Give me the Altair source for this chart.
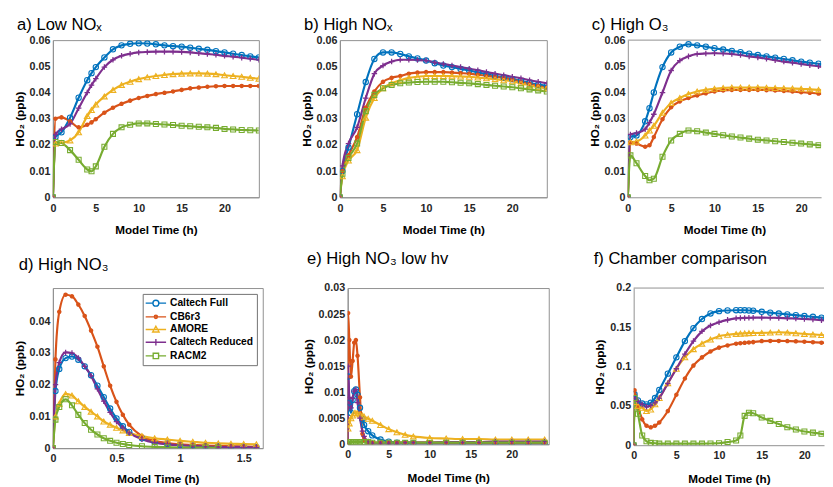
import altair as alt
import pandas as pd

SERIES = ["Caltech Full", "CB6r3", "AMORE", "Caltech Reduced", "RACM2"]
COLORS = ["#0072BD", "#D95319", "#EDB120", "#7E2F8E", "#77AC30"]
MARKER_SHAPES = ["circle", "circle", "triangle-up", "M-1,0H1M0,-1V1", "square"]
MARKER_SIZES = [30, 6, 34, 32, 26]
MARKER_STROKES = [1.1, 2.2, 1.1, 1.3, 1.1]
LEGEND_SHAPES = [
    "M-1.9,0H-0.55M0.55,0H1.9M0.55,0A0.55,0.55,0,1,1,-0.55,0A0.55,0.55,0,1,1,0.55,0",
    "M-1.9,0H1.9M0.3,0A0.3,0.3,0,1,1,-0.3,0A0.3,0.3,0,1,1,0.3,0",
    "M-1.9,0H1.9M0,-0.62L0.6,0.45L-0.6,0.45Z",
    "M-1.9,0H1.9M0,-0.6V0.6",
    "M-1.9,0H-0.5M0.5,0H1.9M-0.5,-0.5H0.5V0.5H-0.5Z",
]

# ---------------- a) Low NOx ----------------
A_T = [0, 0.3, 1, 2, 3, 4, 4.5, 5, 6, 7, 8, 9, 10, 11, 12, 13, 14, 15, 16, 17, 18, 19, 20, 21, 22, 23, 24]
A_FULL = [0, 0.023, 0.0248, 0.0304, 0.038, 0.0447, 0.0474, 0.0497, 0.0534, 0.0565, 0.058, 0.0586, 0.0588, 0.0587, 0.0584, 0.058, 0.0577, 0.0575, 0.0571, 0.0567, 0.0563, 0.0558, 0.0553, 0.0548, 0.0543, 0.0538, 0.0534]
A_CB6 = [0, 0.030, 0.0305, 0.029, 0.0267, 0.0277, 0.0286, 0.0298, 0.0323, 0.0342, 0.0357, 0.0369, 0.0379, 0.0387, 0.0394, 0.0399, 0.0404, 0.041, 0.0416, 0.0419, 0.0422, 0.0424, 0.0425, 0.0425, 0.0425, 0.0425, 0.0425]
A_AMORE = [0, 0.0205, 0.0207, 0.0217, 0.0248, 0.031, 0.0333, 0.0354, 0.0385, 0.041, 0.0429, 0.0441, 0.0451, 0.0458, 0.0463, 0.0467, 0.047, 0.0472, 0.0473, 0.0473, 0.0472, 0.047, 0.0466, 0.0463, 0.046, 0.0456, 0.0453]
A_RED = [0, 0.024, 0.026, 0.028, 0.034, 0.040, 0.0428, 0.0453, 0.0497, 0.0525, 0.054, 0.0548, 0.0553, 0.0555, 0.0556, 0.0556, 0.0556, 0.0555, 0.0553, 0.055, 0.0547, 0.0544, 0.054, 0.0537, 0.0533, 0.0529, 0.0525]
A_RACM = [0, 0.0211, 0.0207, 0.018, 0.0143, 0.0106, 0.0099, 0.0118, 0.0193, 0.0242, 0.0267, 0.0277, 0.0282, 0.0282, 0.028, 0.0278, 0.0276, 0.0273, 0.0271, 0.0269, 0.0267, 0.0265, 0.0261, 0.0259, 0.0257, 0.0256, 0.0255]

# ---------------- b) High NOx ----------------
B_T = [0, 0.3, 1, 2, 3, 4, 5, 6, 7, 8, 9, 10, 11, 12, 13, 14, 15, 16, 17, 18, 19, 20, 21, 22, 23, 24]
B_FULL = [0, 0.010, 0.019, 0.0317, 0.044, 0.0528, 0.0553, 0.0553, 0.0547, 0.0538, 0.053, 0.0522, 0.0512, 0.0503, 0.0497, 0.049, 0.0484, 0.0477, 0.047, 0.0463, 0.0457, 0.0451, 0.0444, 0.0437, 0.043, 0.0425]
B_CB6 = [0, 0.010, 0.016, 0.023, 0.0342, 0.0404, 0.0441, 0.0456, 0.0463, 0.0472, 0.0476, 0.0478, 0.0478, 0.0478, 0.0476, 0.0474, 0.0472, 0.0468, 0.0464, 0.046, 0.0455, 0.0449, 0.0441, 0.0433, 0.0425, 0.0418]
B_AMORE = [0, 0.008, 0.014, 0.018, 0.0304, 0.0379, 0.0416, 0.0435, 0.0447, 0.0456, 0.046, 0.0463, 0.0463, 0.0463, 0.0462, 0.0461, 0.046, 0.0457, 0.0454, 0.0451, 0.0447, 0.0443, 0.0435, 0.0427, 0.042, 0.0416]
B_RED = [0, 0.012, 0.0205, 0.0267, 0.0379, 0.0472, 0.0503, 0.0518, 0.0525, 0.0525, 0.0524, 0.0522, 0.0515, 0.0509, 0.0503, 0.0497, 0.0491, 0.0485, 0.0478, 0.0472, 0.0466, 0.046, 0.0454, 0.0447, 0.0441, 0.0435]
B_RACM = [0, 0.009, 0.015, 0.0205, 0.0329, 0.0391, 0.0416, 0.0429, 0.0435, 0.0438, 0.044, 0.0441, 0.0441, 0.0441, 0.0439, 0.0437, 0.0435, 0.0432, 0.0429, 0.0426, 0.0423, 0.042, 0.0416, 0.0412, 0.0408, 0.0404]

# ---------------- c) High O3 ----------------
C_T = [0, 0.3, 1, 2, 2.5, 3, 4, 5, 6, 7, 8, 9, 10, 11, 12, 13, 14, 15, 16, 17, 18, 19, 20, 21, 22, 23, 24]
C_FULL = [0, 0.023, 0.0236, 0.029, 0.034, 0.040, 0.0497, 0.0553, 0.0575, 0.0584, 0.058, 0.0575, 0.0569, 0.0564, 0.0559, 0.0554, 0.0548, 0.0543, 0.0538, 0.0533, 0.0528, 0.0523, 0.0518, 0.0514, 0.051, 0.0506, 0.0502]
C_CB6 = [0, 0.021, 0.0205, 0.0193, 0.0199, 0.023, 0.0298, 0.0344, 0.0366, 0.0379, 0.0389, 0.0397, 0.0404, 0.0408, 0.041, 0.041, 0.041, 0.041, 0.0409, 0.0408, 0.0406, 0.0404, 0.0401, 0.0399, 0.0396, 0.0393, 0.0391]
C_AMORE = [0, 0.021, 0.0213, 0.0236, 0.0255, 0.0273, 0.0323, 0.036, 0.0379, 0.0394, 0.0404, 0.041, 0.0414, 0.0417, 0.0419, 0.0419, 0.0419, 0.0419, 0.0418, 0.0417, 0.0416, 0.0415, 0.0414, 0.0412, 0.041, 0.0408, 0.0406]
C_RED = [0, 0.024, 0.0245, 0.026, 0.0285, 0.0317, 0.040, 0.0484, 0.0522, 0.0538, 0.0547, 0.0549, 0.055, 0.0549, 0.0547, 0.0543, 0.0538, 0.0534, 0.0529, 0.0523, 0.0518, 0.0514, 0.0509, 0.0504, 0.05, 0.0495, 0.049]
C_RACM = [0, 0.016, 0.013, 0.0081, 0.0065, 0.0071, 0.0155, 0.0217, 0.0242, 0.0255, 0.0252, 0.0247, 0.0242, 0.0237, 0.0232, 0.0228, 0.0224, 0.022, 0.0217, 0.0214, 0.0211, 0.0208, 0.0205, 0.0202, 0.0199, 0.0196, 0.0193]

# ---------------- d) High NO3 ----------------
D_T = [0, 0.02, 0.05, 0.1, 0.15, 0.2, 0.25, 0.3, 0.35, 0.4, 0.45, 0.5, 0.55, 0.6, 0.7, 0.8, 0.9, 1.0, 1.1, 1.2, 1.3, 1.4, 1.5, 1.6]
D_FULL = [0, 0.018, 0.025, 0.0284, 0.0289, 0.0279, 0.0258, 0.023, 0.0197, 0.0161, 0.0125, 0.0094, 0.0069, 0.0051, 0.0031, 0.0019, 0.0014, 0.001, 0.0008, 0.0006, 0.0005, 0.0004, 0.0004, 0.0003]
D_CB6 = [0, 0.028, 0.043, 0.0484, 0.0479, 0.0453, 0.0417, 0.0371, 0.032, 0.0258, 0.0197, 0.0146, 0.0105, 0.0074, 0.0038, 0.0023, 0.0016, 0.0012, 0.001, 0.0008, 0.0007, 0.0006, 0.0005, 0.0004]
D_AMORE = [0, 0.010, 0.014, 0.0171, 0.0166, 0.0148, 0.013, 0.0115, 0.010, 0.0084, 0.0074, 0.0064, 0.0056, 0.0048, 0.0038, 0.0031, 0.0027, 0.0023, 0.002, 0.0017, 0.0015, 0.0014, 0.0013, 0.0012]
D_RED = [0, 0.02, 0.027, 0.0302, 0.030, 0.0284, 0.0258, 0.0228, 0.0187, 0.0148, 0.0113, 0.0084, 0.0064, 0.0048, 0.0028, 0.0017, 0.0012, 0.0009, 0.0007, 0.0005, 0.0004, 0.0003, 0.0003, 0.0002]
D_RACM = [0, 0.009, 0.013, 0.0154, 0.0135, 0.0105, 0.0079, 0.0058, 0.0043, 0.0031, 0.0023, 0.0017, 0.0013, 0.001, 0.0006, 0.0004, 0.0003, 0.0002, 0.0002, 0.0002, 0.0001, None, None, None]

# ---------------- e) High NO3 low hv ----------------
E_T = [0, 0.05, 0.2, 0.4, 0.6, 0.8, 1.0, 1.2, 1.5, 1.8, 2, 2.5, 3, 4, 5, 6, 7, 8, 10, 12, 14, 16, 18, 20, 22, 24]
E_FULL = [0, 0.013, 0.008, 0.006, 0.0085, 0.0102, 0.0105, 0.0095, 0.007, 0.0048, 0.0037, 0.0025, 0.0017, 0.0009, 0.0005, 0.0003, 0.0002, 0.0002, 0.0002, 0.0002, 0.0002, 0.0002, 0.0002, 0.0002, 0.0002, 0.0002]
E_CB6 = [0, 0.0252, 0.02, 0.013, 0.016, 0.0195, 0.020, 0.017, 0.009, 0.002, 0.0008, 0.0004, 0.0003, 0.0003, 0.0003, 0.0003, 0.0003, 0.0003, 0.0003, 0.0003, 0.0003, 0.0003, 0.0003, 0.0003, 0.0003, 0.0003]
E_AMORE = [0, 0.003, 0.004, 0.005, 0.0055, 0.006, 0.006, 0.0059, 0.0057, 0.0055, 0.0053, 0.0049, 0.0045, 0.0037, 0.0029, 0.0023, 0.0018, 0.0015, 0.0012, 0.0011, 0.001, 0.001, 0.0009, 0.0009, 0.0009, 0.0009]
E_RED = [0, 0.015, 0.009, 0.007, 0.0088, 0.0102, 0.0105, 0.008, 0.005, 0.0025, 0.0015, 0.0005, 0.0002, 0.0002, 0.0002, 0.0002, 0.0003, 0.0003, 0.0003, 0.0004, 0.0004, 0.0004, 0.0005, 0.0005, 0.0005, 0.0005]
E_RACM = [0, 0.0004, 0.0004, 0.0004, 0.0004, 0.0004, 0.0004, 0.0004, 0.0004, 0.0004, 0.0004, 0.0004, 0.0003, 0.0003, 0.0003, 0.0003, 0.0003, 0.0003, 0.0003, 0.0003, 0.0003, 0.0003, 0.0003, 0.0003, 0.0003, 0.0003]

# ---------------- f) Chamber comparison ----------------
F_T = [0, 0.1, 0.5, 1, 1.5, 2, 2.5, 3, 4, 5, 6, 7, 8, 9, 10, 11, 12, 12.5, 13, 13.5, 14, 15, 16, 17, 18, 19, 20, 21, 22, 23, 24]
F_FULL = [0, 0.065, 0.057, 0.053, 0.052, 0.054, 0.06, 0.0704, 0.0911, 0.1118, 0.1325, 0.149, 0.1606, 0.1677, 0.1706, 0.1715, 0.1718, 0.1718, 0.1717, 0.1715, 0.1712, 0.1698, 0.1687, 0.1676, 0.1665, 0.1655, 0.1644, 0.1634, 0.1624, 0.1615, 0.1606]
F_CB6 = [0, 0.07, 0.05, 0.033, 0.0248, 0.0228, 0.0248, 0.029, 0.0435, 0.0642, 0.0849, 0.1014, 0.1118, 0.1193, 0.1242, 0.127, 0.1292, 0.1298, 0.1303, 0.1308, 0.1312, 0.1325, 0.1327, 0.1327, 0.1325, 0.1322, 0.1317, 0.1311, 0.1305, 0.1298, 0.1292]
F_AMORE = [0, 0.055, 0.05, 0.0476, 0.0435, 0.0455, 0.052, 0.06, 0.0787, 0.0973, 0.1118, 0.1222, 0.1292, 0.1345, 0.1387, 0.1405, 0.1416, 0.142, 0.1423, 0.1426, 0.1428, 0.1429, 0.1433, 0.1437, 0.1433, 0.1425, 0.1416, 0.141, 0.1402, 0.1395, 0.1387]
F_RED = [0, 0.06, 0.056, 0.0518, 0.0489, 0.0505, 0.054, 0.06, 0.0787, 0.0973, 0.116, 0.1325, 0.1449, 0.1524, 0.1565, 0.1595, 0.1615, 0.1618, 0.162, 0.1622, 0.1623, 0.1623, 0.1622, 0.162, 0.1615, 0.1612, 0.1606, 0.16, 0.1592, 0.1582, 0.1573]
F_RACM = [0, 0.06, 0.04, 0.0124, 0.005, 0.003, 0.0025, 0.002, 0.002, 0.002, 0.002, 0.002, 0.002, 0.0022, 0.0025, 0.004, 0.006, 0.0124, 0.0373, 0.0414, 0.0406, 0.0352, 0.031, 0.0269, 0.0228, 0.02, 0.0174, 0.016, 0.0145, 0.013, 0.0116]

FONT = "Liberation Sans"
FRAME = "#8f8f8f"


def make_df(t, cols):
    rows = []
    for k, (name, vals) in enumerate(zip(SERIES, cols)):
        for ti, vi in zip(t, vals):
            if vi is not None:
                rows.append({"t": ti, "v": vi, "series": name, "k": k})
    return pd.DataFrame(rows)


cscale = alt.Scale(domain=SERIES, range=COLORS)


def panel(df, title, tdx, toff, xdom, xticks, ydom, yticks, w, h,
          xlabpad=6, xtitlepad=11, cut=False, legend=False):
    x = alt.X("t:Q", scale=alt.Scale(domain=xdom, nice=False, zero=False),
              axis=alt.Axis(values=xticks, title="Model Time (h)", format="~g",
                            labelFlush=False, labelPadding=xlabpad, titlePadding=xtitlepad,
                            ticks=False, tickSize=0, grid=False, domainColor=FRAME))
    y = alt.Y("v:Q", scale=alt.Scale(domain=ydom, nice=False, zero=False),
              axis=alt.Axis(values=yticks, title="HO₂ (ppb)", format="~g",
                            labelPadding=3, titlePadding=3, ticks=False, tickSize=0,
                            grid=False, domainColor=FRAME, labelFlush=False))
    leg_args = dict(title=None, orient="top-right", offset=6,
                    symbolSize=121, symbolStrokeWidth=1.4, symbolOpacity=1,
                    symbolOffset=4, labelOffset=8,
                    labelFont=FONT, labelFontSize=10.5, labelFontWeight="bold",
                    labelColor="#000000", strokeColor="#707070", fillColor="white",
                    padding=3, rowPadding=1)
    line_legend = alt.Legend(**leg_args) if legend else None
    base = alt.Chart(df)
    layers = [
        base.mark_line(strokeWidth=2.2, clip=True, interpolate="monotone").encode(
            x=x, y=y, color=alt.Color("series:N", scale=cscale, legend=line_legend),
            detail="k:N")
    ]
    for i, s in enumerate(SERIES):
        layers.append(
            base.transform_filter(alt.datum.series == s).mark_point(
                shape=MARKER_SHAPES[i], size=MARKER_SIZES[i], color=COLORS[i],
                filled=False, strokeWidth=MARKER_STROKES[i], opacity=1, clip=True
            ).encode(x=x, y=y)
        )
    if legend:
        layers.append(
            base.mark_point(filled=False, strokeWidth=1.4, opacity=0, clip=True).encode(
                x=x, y=y,
                color=alt.Color("series:N", scale=cscale, legend=alt.Legend(**leg_args)),
                shape=alt.Shape("series:N", scale=alt.Scale(domain=SERIES, range=LEGEND_SHAPES),
                                legend=alt.Legend(**leg_args)),
            )
        )
    if cut:
        layers.append(
            base.transform_aggregate(n="count()").mark_rule(color=FRAME, strokeWidth=1).encode(
                y=alt.value(0))
        )
    ch = alt.layer(*layers).properties(
        width=w, height=h,
        title=alt.TitleParams(text=title, anchor="start", frame="group", dx=tdx, offset=toff,
                              fontSize=17, fontWeight="normal", font=FONT, color="#000000"),
    )
    if cut:
        ch = ch.properties(view=alt.ViewBackground(strokeOpacity=0))
    return ch


Y06 = [0, 0.01, 0.02, 0.03, 0.04, 0.05, 0.06]
X24 = [0, 5, 10, 15, 20]

pa = panel(make_df(A_T, [A_FULL, A_CB6, A_AMORE, A_RED, A_RACM]), "a) Low NOₓ", -36.7, 0,
           [0, 24], X24, [0, 0.06], Y06, 211, 161)
pb = panel(make_df(B_T, [B_FULL, B_CB6, B_AMORE, B_RED, B_RACM]), "b) High NOₓ", -36.7, 0,
           [0, 24], X24, [0, 0.06], Y06, 212, 161)
pc = panel(make_df(C_T, [C_FULL, C_CB6, C_AMORE, C_RED, C_RACM]), "c) High O₃", -37, 0,
           [0, 22.3], X24, [0, 0.06], Y06, 198, 161, cut=True)
pd_ = panel(make_df(D_T, [D_FULL, D_CB6, D_AMORE, D_RED, D_RACM]), "d) High NO₃", -35, 15,
            [0, 1.65], [0, 0.5, 1, 1.5], [0, 0.0505], [0, 0.01, 0.02, 0.03, 0.04], 215, 164,
            xlabpad=5, xtitlepad=10, legend=True)
pe = panel(make_df(E_T, [E_FULL, E_CB6, E_AMORE, E_RED, E_RACM]), "e) High NO₃ low hv", -41.7, 15,
           [0, 24.5], X24, [0, 0.03], [0, 0.005, 0.01, 0.015, 0.02, 0.025, 0.03], 206, 160,
           xlabpad=5, xtitlepad=13)
pf = panel(make_df(F_T, [F_FULL, F_CB6, F_AMORE, F_RED, F_RACM]), "f) Chamber comparison", -41, 15,
           [0, 22.3], X24, [0, 0.2], [0, 0.05, 0.1, 0.15, 0.2], 195, 161,
           xlabpad=5, xtitlepad=13, cut=True)

row1 = alt.hconcat(pa, pb, pc, spacing=83, bounds="flush").resolve_scale(
    color="independent", shape="independent")
row2 = alt.hconcat(pd_, pe, pf, spacing=87, bounds="flush").resolve_scale(
    color="independent", shape="independent")

chart = alt.vconcat(row1, row2, spacing=13, bounds="full").resolve_scale(
    color="independent", shape="independent"
).properties(
    padding={"left": 5, "top": 2, "right": 0, "bottom": 0}
).configure(
    background="white", font=FONT
).configure_view(
    stroke=FRAME, strokeWidth=1
).configure_axis(
    labelFont=FONT, labelFontSize=11, labelFontWeight="bold", labelColor="#262626",
    titleFont=FONT, titleFontSize=12, titleFontWeight="bold", titleColor="#000000",
    domainWidth=1
)

chart.save("out.html", embed_options={"renderer": "svg", "actions": False})
